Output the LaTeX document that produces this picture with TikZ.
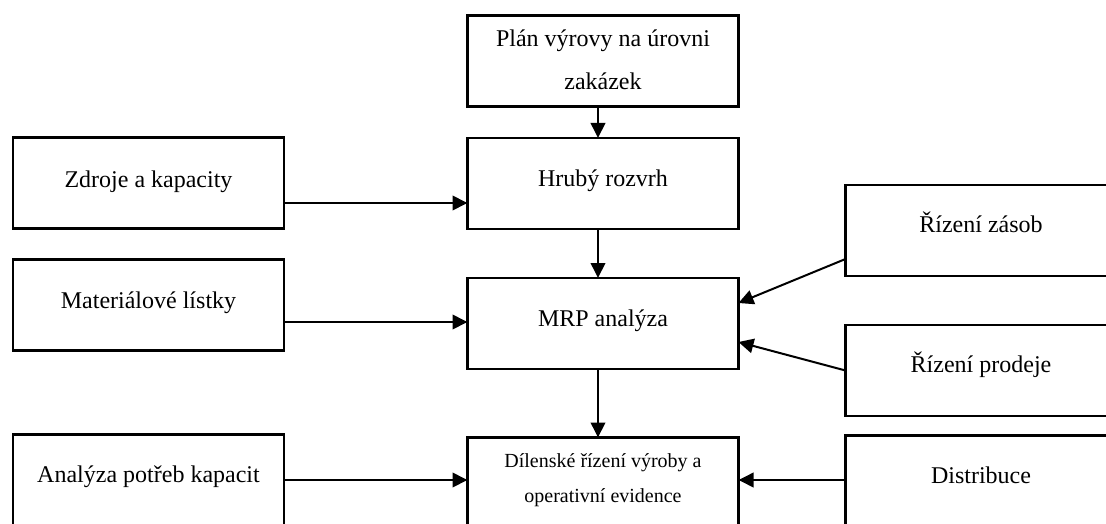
\documentclass[tikz,border=0pt]{standalone}
\usepackage{fontspec}
\setmainfont{Liberation Serif}
\usetikzlibrary{arrows.meta}
\begin{document}
\begin{tikzpicture}[x=1pt,y=-1pt,
  box/.style={draw=black, line width=2.8pt, minimum width=271pt, minimum height=91pt, inner sep=0pt, outer sep=0pt},
  txt/.style={anchor=base, font=\fontsize{24}{28}\selectfont, inner sep=0pt},
  stxt/.style={anchor=base, font=\fontsize{20}{24}\selectfont, inner sep=0pt},
  arr/.style={line width=2pt, -{Triangle[length=15pt,width=14.5pt]}}]
\useasboundingbox (0,0) rectangle (1106,524);
\clip (0,0) rectangle (1106,524);

% boxes
\node[box] (top)    at (603,61)    {};
\node[box] (hruby)  at (603,183.5) {};
\node[box] (mrp)    at (603,323.5) {};
\node[box] (dil)    at (603,483)   {};
\node[box] (zdroje) at (148.5,183) {};
\node[box] (mat)    at (148.5,305) {};
\node[box] (anal)   at (148.5,480) {};
\node[box] (zasob)  at (981,230.5) {};
\node[box] (prodej) at (981,370.5) {};
\node[box] (distr)  at (981,481)   {};

% texts
\node[txt] (ttop1) at (603,47) {Plán výrovy na úrovni};
\node[txt] (ttop2) at (603,90) {zakázek};
\node[txt] (thruby) at (603,186) {Hrubý rozvrh};
\node[txt] (tmrp) at (603,326) {MRP analýza};
\node[stxt] (tdil1) at (603,467) {Dílenské řízení výroby a};
\node[stxt] (tdil2) at (603,502) {operativní evidence};
\node[txt] (tzdroje) at (148.5,187) {Zdroje a kapacity};
\node[txt] (tmat) at (148.5,308) {Materiálové lístky};
\node[txt] (tanal) at (148.5,482) {Analýza potřeb kapacit};
\node[txt] (tzasob) at (981,232) {Řízení zásob};
\node[txt] (tprodej) at (981,372) {Řízení prodeje};
\node[txt] (tdistr) at (981,483) {Distribuce};

% connectors
\draw[arr] ([xshift=-5pt]top.south) -- ([xshift=-5pt]hruby.north);
\draw[arr] ([xshift=-5pt]hruby.south) -- ([xshift=-5pt]mrp.north);
\draw[arr] ([xshift=-5pt]mrp.south) -- ([xshift=-5pt]dil.north);
\draw[arr] ([yshift=-20pt]zdroje.east) -- ([yshift=-19.5pt]hruby.west);
\draw[arr] ([yshift=-17pt]mat.east) -- ([yshift=1.5pt]mrp.west);
\draw[arr] (anal.east) -- ([yshift=3pt]dil.west);
\draw[arr] ([yshift=1pt]distr.west) -- ([yshift=3pt]dil.east);
\draw[arr] ([yshift=-28.5pt]zasob.west) -- ([yshift=20.5pt]mrp.east);
\draw[arr] (prodej.west) -- ([yshift=-18.5pt]mrp.east);
\end{tikzpicture}
\end{document}
